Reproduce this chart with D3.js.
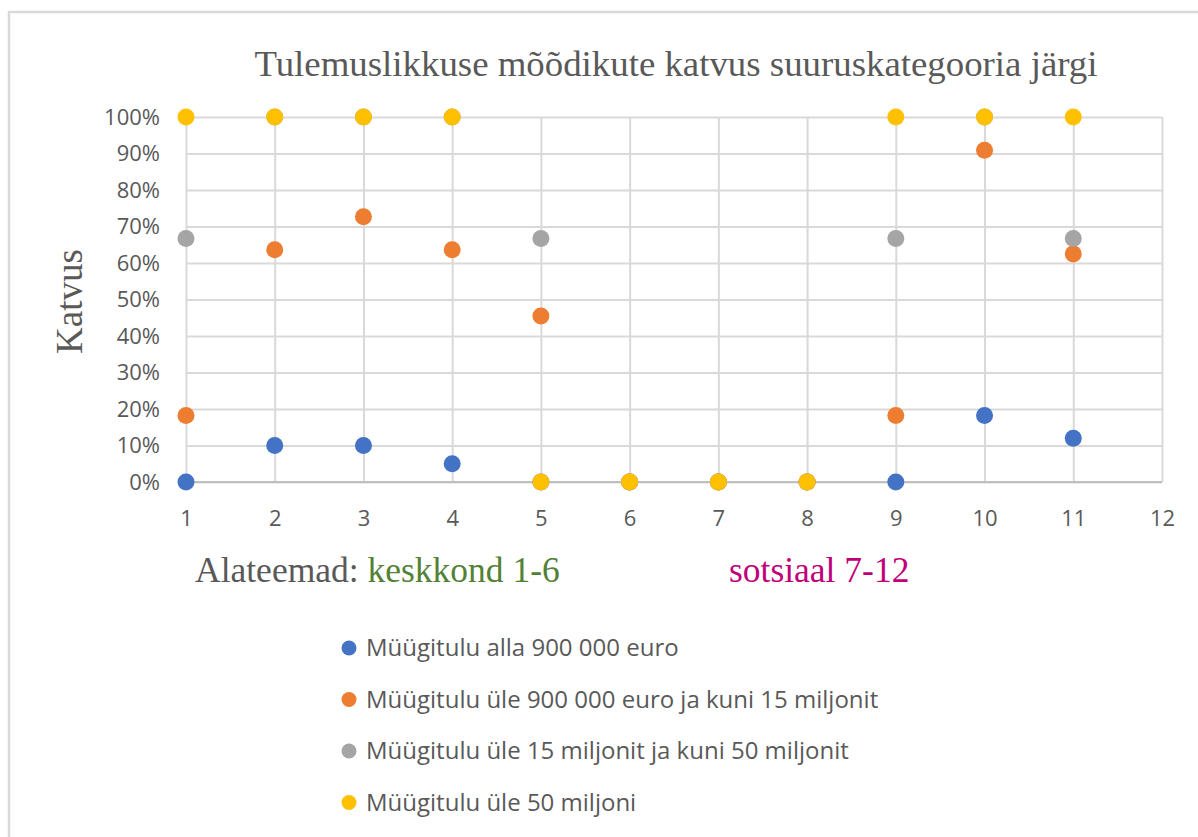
<!DOCTYPE html>
<html><head><meta charset="utf-8">
<script src="https://cdn.jsdelivr.net/npm/d3@7"></script>
<style>body{margin:0;background:#fff}svg{display:block}</style>
</head><body><svg id="c" width="1198" height="837"></svg>
<script>
const xValues = [1,2,3,4,5,6,7,8,9,10,11];
const seriesNames = [
  "Müügitulu alla 900 000 euro",
  "Müügitulu üle 900 000 euro ja kuni 15 miljonit",
  "Müügitulu üle 15 miljonit ja kuni 50 miljonit",
  "Müügitulu üle 50 miljoni"
];
const seriesColors = ["#4472c4","#ed7d31","#a5a5a5","#ffc000"];
const blueValues   = [0, 0.10, 0.10, 0.05, 0, 0, 0, 0, 0, 0.182, 0.12];
const orangeValues = [0.182, 0.636, 0.727, 0.636, 0.455, 0, 0, 0, 0.182, 0.909, 0.625];
const grayValues   = [0.667, 1, 1, 1, 0.667, 0, 0, 0, 0.667, 1, 0.667];
const yellowValues = [1, 1, 1, 1, 0, 0, 0, 0, 1, 1, 1];
const yTicks = [0,0.1,0.2,0.3,0.4,0.5,0.6,0.7,0.8,0.9,1];
const xTicks = [1,2,3,4,5,6,7,8,9,10,11,12];
const allSeries = [blueValues, orangeValues, grayValues, yellowValues];

const svg = d3.select("#c");
const L=186,R=1162,T=117,B=482;
const x = d3.scaleLinear().domain([1,12]).range([L,R]);
const y = d3.scaleLinear().domain([0,1]).range([B,T]);
const grey="#595959", grid="#d9d9d9";

// outer frame
svg.append("path").attr("d","M9,837 V12 H1198").attr("fill","none").attr("stroke","#d9d9d9").attr("stroke-width",2.5);

// title
svg.append("text").attr("x",676).attr("y",76).attr("text-anchor","middle")
  .attr("font-family","Liberation Serif, serif").attr("font-size",36).attr("fill",grey)
  .attr("textLength",843).attr("lengthAdjust","spacingAndGlyphs")
  .text("Tulemuslikkuse mõõdikute katvus suuruskategooria järgi");

// grid
const gY = svg.append("g").attr("transform",`translate(${L},0)`)
  .call(d3.axisLeft(y).tickValues(yTicks).tickSize(-(R-L)).tickFormat(d3.format(".0%")));
gY.select(".domain").remove();
gY.selectAll(".tick line").attr("stroke",grid).attr("stroke-width",2);
gY.selectAll(".tick text").attr("x",-26).attr("font-family","Open Sans, sans-serif").attr("font-size",22).attr("fill",grey);

const gX = svg.append("g").attr("transform",`translate(0,${B})`)
  .call(d3.axisBottom(x).tickValues(xTicks).tickSize(-(B-T)).tickFormat(d3.format("d")));
gX.select(".domain").remove();
gX.selectAll(".tick line").attr("stroke",grid).attr("stroke-width",2);
gX.selectAll(".tick text").attr("y",28).attr("font-family","Open Sans, sans-serif").attr("font-size",22).attr("fill",grey);
svg.append("line").attr("x1",L).attr("x2",R).attr("y1",B).attr("y2",B).attr("stroke","#bfbfbf").attr("stroke-width",2);

// y label
svg.append("text").attr("transform",`translate(82,${(T+B)/2+2}) rotate(-90)`).attr("text-anchor","middle")
  .attr("font-family","Liberation Serif, serif").attr("font-size",37).attr("fill",grey).text("Katvus");

// points
allSeries.forEach((vals,i)=>{
  svg.append("g").selectAll("circle").data(vals).join("circle")
    .attr("cx",(d,j)=>x(xValues[j])).attr("cy",d=>y(d)).attr("r",8.5).attr("fill",seriesColors[i]);
});

// subtitle
const sub = svg.append("text").attr("y",582).attr("font-family","Liberation Serif, serif").attr("font-size",35.5);
sub.append("tspan").attr("x",195).attr("fill",grey).text("Alateemad: ");
sub.append("tspan").attr("fill","#538135").text("keskkond 1-6");
svg.append("text").attr("x",729).attr("y",582).attr("font-family","Liberation Serif, serif").attr("font-size",35.5)
  .attr("fill","#c0007a").text("sotsiaal 7-12");

// legend
const lg = svg.append("g");
seriesNames.forEach((n,i)=>{
  const yy = 648 + i*51.5;
  lg.append("circle").attr("cx",349).attr("cy",yy).attr("r",7.5).attr("fill",seriesColors[i]);
  lg.append("text").attr("x",366).attr("y",yy).attr("dy","0.35em").attr("font-family","Open Sans, sans-serif")
    .attr("font-size",24).attr("fill",grey).text(n);
});
</script></body></html>
